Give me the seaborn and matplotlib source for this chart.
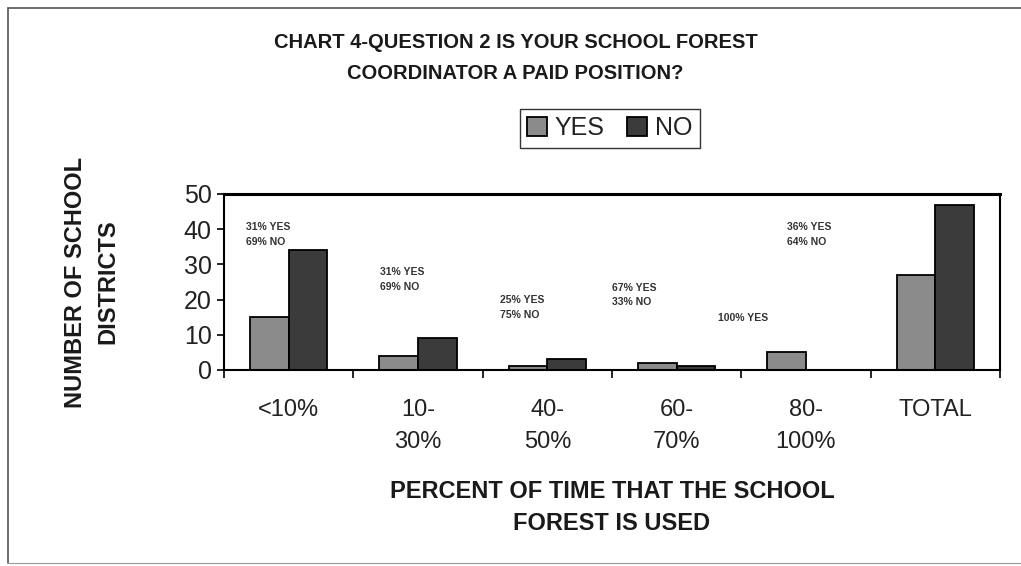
import matplotlib
matplotlib.use("Agg")
import matplotlib.pyplot as plt
from matplotlib.lines import Line2D
import seaborn as sns
import pandas as pd

# Survey responses per usage bracket
categories = ["<10%", "10-\n30%", "40-\n50%", "60-\n70%", "80-\n100%", "TOTAL"]
yes_counts = [15, 4, 1, 2, 5, 27]
no_counts = [34, 9, 3, 1, 0, 47]

# Share labels written above each group
share_labels = ["31% YES\n69% NO", "31% YES\n69% NO", "25% YES\n75% NO",
                "67% YES\n33% NO", "100% YES", "36% YES\n64% NO"]
share_x = [-0.33, 0.706, 1.634, 2.50, 3.32, 3.853]
share_y = [38.4, 25.6, 17.8, 21.3, 14.8, 38.6]

y_ticks = [0, 10, 20, 30, 40, 50]

df = pd.DataFrame({
    "Bracket": categories * 2,
    "Count": yes_counts + no_counts,
    "Response": ["YES"] * len(categories) + ["NO"] * len(categories),
})

sns.set_theme(style="white")
plt.rcParams["font.family"] = ["Liberation Sans", "DejaVu Sans"]

fig = plt.figure(figsize=(10.21, 5.66), dpi=100)
ax = fig.add_axes([0.2194, 0.3463, 0.76, 0.3110])

palette = {"YES": "#8b8b8b", "NO": "#3b3b3b"}
sns.barplot(data=df, x="Bracket", y="Count", hue="Response", order=categories,
            hue_order=["YES", "NO"], palette=palette, width=0.6,
            edgecolor="black", linewidth=1.3, ax=ax, saturation=1)

ax.set_ylim(0, 50)
ax.set_xlim(-0.5, len(categories) - 0.5)
ax.set_yticks(y_ticks)
ax.set_yticklabels([str(v) for v in y_ticks], fontsize=18, color="#222222")

# labels centred under each group, tick marks on the group boundaries
ax.set_xticks(range(len(categories)))
ax.set_xticklabels(categories, fontsize=17, color="#222222", linespacing=1.55,
                   va="top")
ax.set_xticks([i - 0.5 for i in range(len(categories) + 1)], minor=True)
ax.tick_params(axis="x", which="major", length=0, pad=21)
ax.tick_params(axis="x", which="minor", length=6, width=1.2, color="black",
               direction="out", bottom=True)
ax.tick_params(axis="y", length=5, width=1.2, color="black", direction="out",
               left=True, pad=4)

for side in ["left", "bottom", "right"]:
    ax.spines[side].set_color("black")
    ax.spines[side].set_linewidth(1.5)
ax.spines["top"].set_color("black")
ax.spines["top"].set_linewidth(2.2)

for txt, x, y in zip(share_labels, share_x, share_y):
    ax.text(x, y, txt, fontsize=7.5, fontweight="bold", color="#333333",
            ha="left", va="center", linespacing=1.6)

ax.set_xlabel("PERCENT OF TIME THAT THE SCHOOL\nFOREST IS USED",
              fontsize=17, fontweight="bold", color="#1a1a1a",
              linespacing=1.5, labelpad=20)
ax.set_ylabel("NUMBER OF SCHOOL\nDISTRICTS", fontsize=17, fontweight="bold",
              color="#1a1a1a", linespacing=1.55, labelpad=46)

fig.text(0.505, 0.898,
         "CHART 4-QUESTION 2 IS YOUR SCHOOL FOREST\nCOORDINATOR A PAID POSITION?",
         ha="center", va="center", fontsize=14.5, fontweight="bold",
         color="#1a1a1a", linespacing=1.8)

leg = ax.legend(loc="center", bbox_to_anchor=(0.597, 0.773),
                bbox_transform=fig.transFigure, ncol=2, fontsize=18,
                frameon=True, fancybox=False, handlelength=0.8,
                handleheight=0.8, handletextpad=0.3, columnspacing=0.9,
                borderpad=0.3, edgecolor="black")
leg.get_frame().set_linewidth(1.0)
for t in leg.get_texts():
    t.set_color("#222222")
leg.set_title(None)

# page border
fig.add_artist(Line2D([8 / 1021, 1.0], [1 - 8 / 566, 1 - 8 / 566],
                      transform=fig.transFigure, color="#555555", lw=1.2))
fig.add_artist(Line2D([8 / 1021, 8 / 1021], [1 - 8 / 566, 3 / 566],
                      transform=fig.transFigure, color="#555555", lw=1.2))
fig.add_artist(Line2D([8 / 1021, 1.0], [3 / 566, 3 / 566],
                      transform=fig.transFigure, color="#999999", lw=0.8))

fig.savefig("out.png", dpi=100, facecolor="white")
